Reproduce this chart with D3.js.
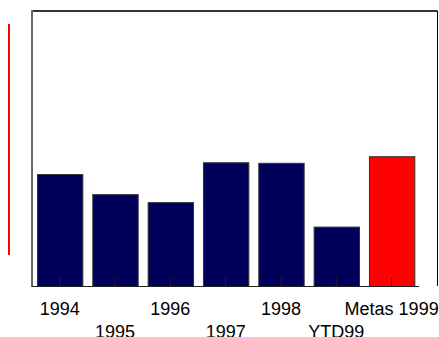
<!DOCTYPE html>
<html>
<head>
<meta charset="utf-8">
<script src="https://cdn.jsdelivr.net/npm/d3@7"></script>
<style>
html,body{margin:0;padding:0;background:#fff;}
svg{display:block;}
</style>
</head>
<body>
<script>
const categories = ["1994","1995","1996","1997","1998","YTD99","Metas 1999"];
const values = [40.7, 33.4, 30.5, 45.0, 44.8, 21.6, 47.2];
const barColors = ["#00005a","#00005a","#00005a","#00005a","#00005a","#00005a","#ff0000"];

const W = 439, H = 337;
const svg = d3.select("body").append("svg").attr("width", W).attr("height", H);

const x = d3.scaleBand().domain(categories).range([32, 419.3]).paddingInner(0.18).paddingOuter(0.09);
const y = d3.scaleLinear().domain([0, 100]).range([286, 11]);

// frame
svg.append("line").attr("x1",32).attr("x2",437.5).attr("y1",11).attr("y2",11).attr("stroke","#333").attr("stroke-width",2);
svg.append("line").attr("x1",437.5).attr("x2",437.5).attr("y1",11).attr("y2",286).attr("stroke","#000").attr("stroke-width",1);
svg.append("line").attr("x1",32).attr("x2",32).attr("y1",10).attr("y2",287).attr("stroke","#666").attr("stroke-width",2);

// red line
svg.append("line").attr("x1",9).attr("x2",9).attr("y1",24).attr("y2",255).attr("stroke","#ff0000").attr("stroke-width",2);

// bars
svg.selectAll("rect.bar").data(categories).enter().append("rect")
  .attr("class","bar")
  .attr("x", d => x(d) + 0.5)
  .attr("y", (d,i) => y(values[i]) + 0.5)
  .attr("width", x.bandwidth())
  .attr("height", (d,i) => y(0) - y(values[i]))
  .attr("fill", (d,i) => barColors[i])
  .attr("stroke", "#333")
  .attr("stroke-width", 1);

// x axis with inward ticks
const xAxis = d3.axisBottom(x).tickSizeInner(-8).tickSizeOuter(0).tickFormat("");
const gx = svg.append("g").attr("transform","translate(0,286)").call(xAxis);
gx.select(".domain").attr("stroke","#222").attr("d","M32,0.5H419.3");
gx.selectAll(".tick line").attr("stroke","#222");

// labels alternating rows
svg.selectAll("text.lbl").data(categories).enter().append("text")
  .attr("class","lbl")
  .attr("x", d => x(d) + x.bandwidth()/2)
  .attr("y", (d,i) => i % 2 === 0 ? 315 : 338)
  .attr("text-anchor","middle")
  .attr("font-family","Liberation Sans, Arial, sans-serif")
  .attr("font-size", 18)
  .attr("fill","#000")
  .text(d => d);
</script>
</body>
</html>
